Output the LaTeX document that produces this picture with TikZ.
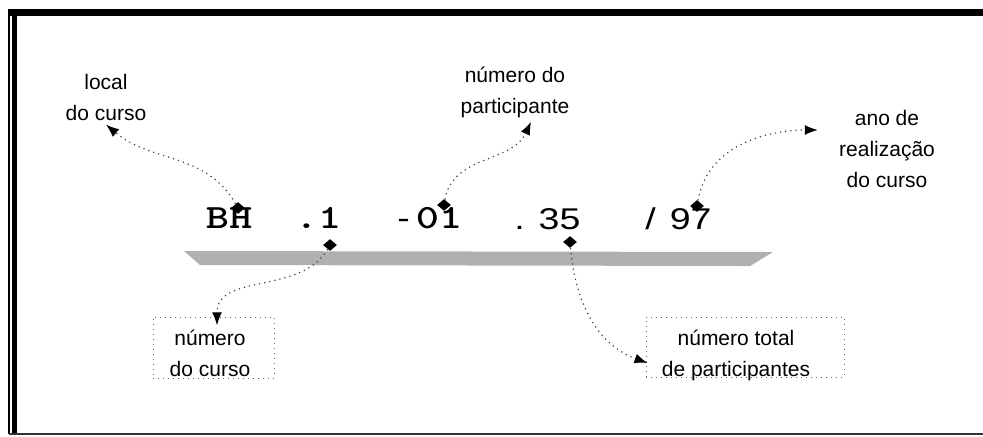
\documentclass[tikz,border=0pt]{standalone}
\usepackage{fontspec}
\setmainfont{Liberation Sans}
\newfontfamily\numfont[FakeStretch=1.25]{Liberation Sans}
\newfontfamily\codefont[FakeStretch=1.3]{lmmonolt10-bold.otf}
\usetikzlibrary{arrows.meta,shapes.geometric}

\begin{document}
\begin{tikzpicture}[
  x=0.5pt, y=0.5pt,
  marca/.style={diamond, fill=black, inner sep=0pt, minimum width=7pt, minimum height=6pt},
  rotulo/.style={align=center, inner sep=2pt, font=\fontsize{10.5}{15.5}\selectfont},
  codigo/.style={inner sep=0pt, anchor=base, font=\codefont\fontsize{17}{17}\selectfont},
  numero/.style={inner sep=0pt, anchor=base west, font=\numfont\fontsize{15}{15}\selectfont},
  caixa/.style={draw=black!60, dotted, line width=0.5pt, inner sep=0pt},
  seta/.style={draw=black!75, dotted, line width=0.6pt, -{Latex[length=6.5pt, width=5pt, black]}}
]
  \useasboundingbox (0,0) rectangle (983,-436);

  % moldura
  \draw[line width=3.5pt] (8,-12.5) -- (983,-12.5);
  \draw[line width=0.85pt] (9,-9) -- (9,-434);
  \draw[line width=2.2pt] (14.5,-9) -- (14.5,-434);
  \draw[line width=0.8pt, black!80] (9,-434) -- (983,-434);

  % faixa sombreada
  \fill[gray!62] (184,-251) -- (773,-252) -- (750,-266) -- (200,-265) -- cycle;

  % codigo
  \node[codigo] (cBH) at (229,-228) {BH};
  \node[codigo] (c1) at (318,-228) {.1};
  \node[codigo, anchor=base west] (c01) at (397,-228) {{\numfont\fontsize{15}{15}\selectfont -}\hspace{3pt}01};
  \node[numero] (c35) at (514,-229) {. 35};
  \node[numero] (c97) at (645,-229) {/\hspace{7pt}97};

  % marcas
  \node[marca] (mBH) at (238,-208) {};
  \node[marca] (m01) at (444,-205) {};
  \node[marca] (m1) at (330,-245) {};
  \node[marca] (m35) at (570,-242) {};
  \node[marca] (m97) at (697,-206) {};

  % rotulos
  \node[rotulo] (local) at (106,-97) {local\\do curso};
  \node[rotulo] (partic) at (515,-92) {número do\\participante};
  \node[rotulo] (ano) at (887,-149) {ano de\\realização\\do curso};
  \node[rotulo] (nCurso) at (210,-353) {número\\do curso};
  \node[rotulo] (nTotal) at (736,-355) {número total\\de participantes};
  \node[caixa, minimum width=60.5pt, minimum height=30.5pt] (cxCurso) at (213.5,-347.5) {};
  \node[caixa, minimum width=99pt, minimum height=30pt] (cxTotal) at (745,-347) {};

  % setas
  \draw[seta] (mBH) to[out=120, in=-40] (local.south);
  \draw[seta] (m01) to[out=80, in=-115] ([xshift=8pt]partic.south);
  \draw[seta, shorten >=8.5pt] (m97) to[out=80, in=180] (ano.160);
  \draw[seta] (m1) to[out=-120, in=90] ([xshift=3.5pt]nCurso.north);
  \draw[seta] (m35) to[out=-85, in=160] ([xshift=-5pt, yshift=-4pt]nTotal.west);
\end{tikzpicture}
\end{document}
